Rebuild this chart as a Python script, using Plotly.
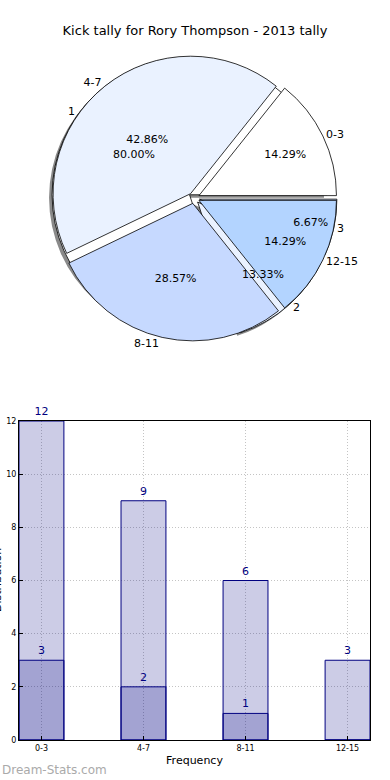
import plotly.graph_objects as go

# ---- data ----
title_text = "Kick tally for Rory Thompson - 2013 tally"
range_labels = ["0-3", "4-7", "8-11", "12-15"]
range_counts = [12, 9, 6, 3]          # totals per frequency band (light bars)
sub_counts = [3, 2, 1, 0]             # subset per band (dark overlay bars)
pie_a_labels = ["1", "2", "3"]
pie_a_values = [80.00, 13.33, 6.67]
pie_b_labels = range_labels
pie_b_values = [14.29, 42.86, 28.57, 14.29]

# ---- styles ----
FONT = "DejaVu Sans, Verdana, sans-serif"
pie_colors_b = ["#ffffff", "#eaf2ff", "#c6d9ff", "#b3d4ff"]
pie_colors_a = ["#ffffff", "#eaf2ff", "#c6d9ff"]
navy = "#000080"
bar_fill = "rgba(0,0,128,0.2)"

W, H = 390, 780
ML, MR, MT, MB = 19, 20, 50, 40
PW, PH = W - ML - MR, H - MT - MB

def px_x(p):
    return (p - ML) / PW

def px_y(p):
    return (H - MB - p) / PH

def start_at_3_oclock(values):
    # plotly places the first counterclockwise slice clockwise of `rotation`
    return 90 - 360.0 * values[0] / sum(values)

rot_a = start_at_3_oclock(pie_a_values)
rot_b = start_at_3_oclock(pie_b_values)

cx, cy, half = 194, 198, 143
pie_dom = dict(x=[px_x(cx - half), px_x(cx + half)], y=[px_y(cy + half), px_y(cy - half)])
sh = 3
shadow_dom = dict(x=[px_x(cx - half - sh), px_x(cx + half - sh)],
                  y=[px_y(cy + half + sh), px_y(cy - half + sh)])
PULL = 0.04
common = dict(sort=False, direction="counterclockwise",
              hoverinfo="skip", showlegend=False)
clear = "rgba(0,0,0,0)"

fig = go.Figure()
# shadow
fig.add_trace(go.Pie(labels=pie_a_labels, values=pie_a_values, domain=shadow_dom, rotation=rot_a,
                     pull=[PULL] * 3, marker=dict(colors=["#8a8a8a"] * 3, line=dict(width=0)),
                     textinfo="none", **common))
# first pie (underneath)
fig.add_trace(go.Pie(labels=pie_a_labels, values=pie_a_values, domain=pie_dom, rotation=rot_a,
                     pull=[PULL] * 3, marker=dict(colors=pie_colors_a, line=dict(color="black", width=0.8)),
                     textinfo="none", **common))
# second pie (on top)
fig.add_trace(go.Pie(labels=pie_b_labels, values=pie_b_values, domain=pie_dom, rotation=rot_b,
                     pull=[PULL] * 4, marker=dict(colors=pie_colors_b, line=dict(color="black", width=0.8)),
                     texttemplate="%{percent:.2%}", textposition="inside",
                     insidetextorientation="horizontal",
                     insidetextfont=dict(family=FONT, size=11, color="black"), **common))
# first pie percentages on top
fig.add_trace(go.Pie(labels=pie_a_labels, values=pie_a_values, domain=pie_dom, rotation=rot_a,
                     pull=[PULL] * 3, marker=dict(colors=[clear] * 3, line=dict(width=0)),
                     texttemplate="%{percent:.2%}", textposition="inside",
                     insidetextorientation="horizontal",
                     insidetextfont=dict(family=FONT, size=11, color="black"), **common))
# outside labels
fig.add_trace(go.Pie(labels=pie_b_labels, values=pie_b_values, domain=pie_dom, rotation=rot_b,
                     pull=[PULL] * 4, marker=dict(colors=[clear] * 4, line=dict(width=0)),
                     texttemplate="%{label}", textposition="outside",
                     outsidetextfont=dict(family=FONT, size=11, color="black"), **common))
fig.add_trace(go.Pie(labels=pie_a_labels, values=pie_a_values, domain=pie_dom, rotation=rot_a,
                     pull=[PULL] * 3, marker=dict(colors=[clear] * 3, line=dict(width=0)),
                     texttemplate="%{label}", textposition="outside",
                     outsidetextfont=dict(family=FONT, size=11, color="black"), **common))

# bars
BW = 0.44
fig.add_trace(go.Bar(x=range_labels, y=range_counts, width=BW,
                     marker=dict(color=bar_fill, line=dict(color=navy, width=1)),
                     text=[str(v) for v in range_counts], textposition="outside",
                     textfont=dict(family=FONT, size=11, color=navy), cliponaxis=False,
                     hoverinfo="skip", showlegend=False))
fig.add_trace(go.Bar(x=range_labels, y=sub_counts, width=BW,
                     marker=dict(color=bar_fill, line=dict(color=navy, width=1)),
                     text=[str(v) if v else "" for v in sub_counts], textposition="outside",
                     textfont=dict(family=FONT, size=11, color=navy), cliponaxis=False,
                     hoverinfo="skip", showlegend=False))

grid = dict(showgrid=True, gridcolor="#c4c4c4", griddash="1px,2px", gridwidth=1)
fig.update_layout(
    width=W, height=H, margin=dict(l=ML, r=MR, t=MT, b=MB, autoexpand=False),
    paper_bgcolor="white", plot_bgcolor="white",
    barmode="overlay", uniformtext=dict(minsize=11, mode="show"),
    font=dict(family=FONT, size=11, color="black"),
    title=dict(text=title_text, x=0.5, xanchor="center", y=1 - 30 / H, yanchor="middle",
               font=dict(family=FONT, size=13, color="black")),
    xaxis=dict(domain=[0, 1], type="category", range=[-BW / 2, len(range_labels) - 1 + BW / 2],
               automargin=False,
               showline=True, linecolor="black", linewidth=1, mirror=True,
               ticks="inside", ticklen=4, tickcolor="black",
               tickfont=dict(family=FONT, size=8, color="black"),
               title=dict(text="Frequency", font=dict(family=FONT, size=11), standoff=4),
               zeroline=False, **grid),
    yaxis=dict(domain=[0, px_y(421)], range=[0, 12], dtick=2, automargin=False,
               showline=True, linecolor="black", linewidth=1, mirror=True,
               ticks="inside", ticklen=4, tickcolor="black",
               tickfont=dict(family=FONT, size=8, color="black"),
               zeroline=False, **grid),
    annotations=[
        dict(text="Dream-Stats.com", xref="paper", yref="paper", x=px_x(0), y=px_y(770),
             xanchor="left", yanchor="middle", showarrow=False,
             font=dict(family=FONT, size=12, color="#aaaaaa")),
        dict(text="Distribution", xref="paper", yref="paper", x=px_x(-3), y=px_y(580),
             xanchor="center", yanchor="middle", textangle=-90, showarrow=False,
             font=dict(family=FONT, size=11, color="black")),
    ],
)

fig.write_html("out.html", config={"displayModeBar": False},
               post_script="document.body.style.margin='0';document.body.style.overflow='hidden';")
